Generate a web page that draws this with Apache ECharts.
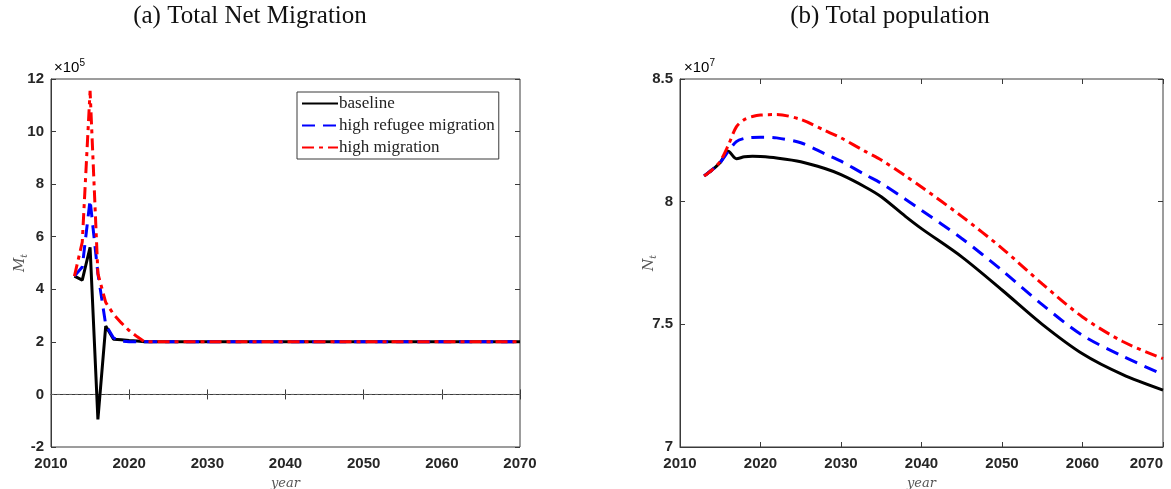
<!DOCTYPE html>
<html>
<head>
<meta charset="utf-8">
<script src="https://cdn.jsdelivr.net/npm/echarts@6/dist/echarts.min.js"></script>
<style>html,body{margin:0;padding:0;background:#fff;overflow:hidden}#c{width:1171px;height:489px}</style>
</head>
<body>
<div id="c"></div>
<script>
// ---- Data ----
const seriesNames = ['baseline', 'high refugee migration', 'high migration'];
const xTicks = [2010, 2020, 2030, 2040, 2050, 2060, 2070];
const migTicks = [-2, 0, 2, 4, 6, 8, 10, 12];          // x 10^5
const popTicks = [7, 7.5, 8, 8.5];                      // x 10^7

// (a) Total net migration, units of 10^5
const migYears    = [2013, 2014, 2015, 2016, 2017, 2018, 2019, 2020, 2021, 2022, 2070];
const migBaseline = [4.5, 4.35, 5.6, -0.95, 2.6, 2.1, 2.08, 2.05, 2.03, 2.0, 2.0];
const migRefugee  = [4.5, 4.85, 7.4, 4.6, 2.65, 2.15, 2.03, 2.0, 2.0, 2.0, 2.0];
const migHigh     = [4.5, 5.8, 11.55, 4.6, 3.5, 3.05, 2.72, 2.43, 2.2, 2.0, 2.0];

// (b) Total population, units of 10^7
const popYears    = [2013, 2014, 2015, 2016, 2017, 2018, 2019, 2020, 2022, 2025, 2028, 2030, 2033, 2035, 2038, 2040, 2045, 2050, 2055, 2060, 2065, 2070];
const popBaseline = [8.105, 8.13, 8.16, 8.205, 8.175, 8.183, 8.185, 8.184, 8.178, 8.163, 8.135, 8.11, 8.06, 8.02, 7.94, 7.89, 7.775, 7.64, 7.50, 7.38, 7.295, 7.232];
const popRefugee  = [8.105, 8.13, 8.16, 8.205, 8.245, 8.258, 8.262, 8.263, 8.26, 8.24, 8.195, 8.165, 8.11, 8.075, 8.01, 7.965, 7.85, 7.72, 7.58, 7.455, 7.37, 7.295];
const popHigh     = [8.105, 8.13, 8.165, 8.23, 8.305, 8.335, 8.347, 8.353, 8.355, 8.335, 8.29, 8.26, 8.205, 8.17, 8.105, 8.06, 7.94, 7.81, 7.665, 7.53, 7.43, 7.36];

const pairs = (xs, ys) => xs.map((x, i) => [x, ys[i]]);

const colors = ['#000000', '#0000ff', '#ff0000'];
const lineStyles = [
  { width: 3, type: 'solid' },
  { width: 3, type: [13, 8] },
  { width: 3, type: [12, 5, 4, 5] }
];

const chart = echarts.init(document.getElementById('c'), null, { renderer: 'canvas' });

const tickFont = { color: '#262626', fontSize: 15, fontWeight: 'bold', fontFamily: 'Liberation Sans, Arial, sans-serif' };

function grid(left, right) {
  return { left: left, right: right, top: 79, bottom: 42, show: true, borderColor: '#3a3a3a', borderWidth: 1,
           backgroundColor: '#fff', containLabel: false, outerBoundsMode: 'none' };
}

function xAxisMain(gi, alignRight) {
  return {
    type: 'value', gridIndex: gi, min: 2010, max: 2070, interval: 10,
    axisLine: { show: true, lineStyle: { color: '#3a3a3a' } },
    axisTick: { show: true, inside: true, length: 5, lineStyle: { color: '#3a3a3a' } },
    splitLine: { show: false },
    axisLabel: Object.assign({ margin: 9, alignMaxLabel: alignRight ? 'right' : null,
                               formatter: v => xTicks.includes(v) ? String(v) : '' }, tickFont),
    name: 'year', nameLocation: 'middle', nameGap: 30, nameMoveOverlap: false,
    nameTextStyle: { fontFamily: 'DejaVu Serif, serif', fontStyle: 'italic', fontSize: 13, color: '#555' }
  };
}
function xAxisTop(gi) {
  return {
    type: 'value', gridIndex: gi, position: 'top', min: 2010, max: 2070, interval: 10,
    axisLine: { show: false }, axisLabel: { show: false }, splitLine: { show: false },
    axisTick: { show: true, inside: true, length: 5, lineStyle: { color: '#3a3a3a' } }
  };
}
function yAxisMain(gi, min, max, interval, ticks, nameRich, gap) {
  return {
    type: 'value', gridIndex: gi, min: min, max: max, interval: interval,
    axisLine: { show: true, lineStyle: { color: '#3a3a3a' } },
    axisTick: { show: true, inside: true, length: 5, lineStyle: { color: '#3a3a3a' } },
    splitLine: { show: false },
    axisLabel: Object.assign({ margin: 7, formatter: v => ticks.includes(v) ? String(v) : '' }, tickFont),
    name: nameRich, nameLocation: 'middle', nameGap: gap, nameRotate: 90, nameMoveOverlap: false,
    nameTextStyle: {
      color: '#555', fontFamily: 'DejaVu Serif, serif', fontStyle: 'italic', fontSize: 14,
      rich: { m: { fontFamily: 'DejaVu Serif, serif', fontStyle: 'italic', fontSize: 14, color: '#555' },
              s: { fontFamily: 'DejaVu Serif, serif', fontStyle: 'italic', fontSize: 9, color: '#555', padding: [8, 0, 0, 0] } }
    }
  };
}
function yAxisRight(gi, min, max, interval) {
  return {
    type: 'value', gridIndex: gi, position: 'right', min: min, max: max, interval: interval,
    axisLine: { show: false }, axisLabel: { show: false }, splitLine: { show: false },
    axisTick: { show: true, inside: true, length: 5, lineStyle: { color: '#3a3a3a' } }
  };
}

const migData = [migBaseline, migRefugee, migHigh];
const popData = [popBaseline, popRefugee, popHigh];

const series = [];
series.push({
  name: 'zero', type: 'line', xAxisIndex: 0, yAxisIndex: 0, silent: true, symbol: 'none',
  data: [[2010, 0], [2070, 0]],
  lineStyle: { color: '#666', width: 1, type: [3, 3] }, z: 1
});
seriesNames.forEach((n, i) => {
  series.push({
    name: n, type: 'line', xAxisIndex: 0, yAxisIndex: 0, symbol: 'none', showSymbol: false,
    data: pairs(migYears, migData[i]), color: colors[i],
    lineStyle: Object.assign({ color: colors[i] }, lineStyles[i]), z: 2 + i
  });
});
seriesNames.forEach((n, i) => {
  series.push({
    name: n, type: 'line', xAxisIndex: 2, yAxisIndex: 2, symbol: 'none', showSymbol: false,
    smooth: 0.3, data: pairs(popYears, popData[i]), color: colors[i],
    lineStyle: Object.assign({ color: colors[i] }, lineStyles[i]), z: 2 + i
  });
});

const serif = 'Liberation Serif, DejaVu Serif, serif';
const sciRich = {
  a: { fontFamily: 'Liberation Sans, Arial, sans-serif', fontSize: 15, color: '#262626' },
  b: { fontFamily: 'Liberation Sans, Arial, sans-serif', fontSize: 10, color: '#262626', padding: [0, 0, 9, 0] }
};

chart.setOption({
  animation: false,
  backgroundColor: '#fff',
  grid: [grid(51, 651), grid(680, 8)],
  xAxis: [xAxisMain(0, false), xAxisTop(0), xAxisMain(1, true), xAxisTop(1)],
  yAxis: [
    yAxisMain(0, -2, 12, 2, migTicks, '{m|M}{s|t}', 22),
    yAxisRight(0, -2, 12, 2),
    yAxisMain(1, 7, 8.5, 0.5, popTicks, '{m|N}{s|t}', 22),
    yAxisRight(1, 7, 8.5, 0.5)
  ],
  legend: {
    data: seriesNames, orient: 'vertical', left: 297, top: 92,
    itemWidth: 36, itemHeight: 14, itemGap: 5,
    padding: [3, 4, 3, 4],
    itemStyle: { opacity: 0 },
    borderColor: '#3a3a3a', borderWidth: 1, backgroundColor: '#fff',
    textStyle: { fontFamily: serif, fontSize: 17, color: '#222', padding: [0, 0, 0, -4] }
  },
  graphic: [
    { type: 'text', x: 250, y: 4, style: { text: '(a) Total Net Migration', font: '25px ' + serif, fill: '#111', textAlign: 'center' } },
    { type: 'text', x: 890, y: 4, style: { text: '(b) Total population', font: '25px ' + serif, fill: '#111', textAlign: 'center' } },
    { type: 'text', x: 54, y: 58, style: { text: '{a|×10}{b|5}', rich: sciRich } },
    { type: 'text', x: 684, y: 58, style: { text: '{a|×10}{b|7}', rich: sciRich } }
  ],
  series: series
});
</script>
</body>
</html>
